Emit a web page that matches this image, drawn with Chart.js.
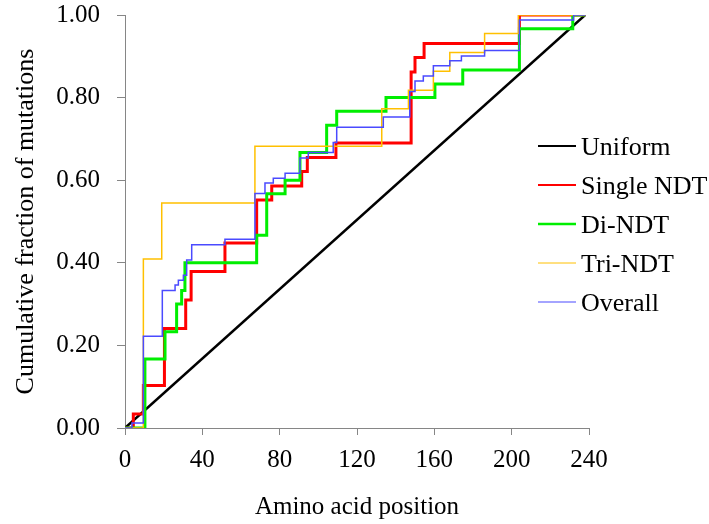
<!DOCTYPE html>
<html>
<head>
<meta charset="utf-8">
<script src="https://cdn.jsdelivr.net/npm/chart.js@4"></script>
<style>
  body { margin: 0; background: #fff; }
  #wrap { width: 709px; height: 524px; }
</style>
</head>
<body>
<div id="wrap"><canvas id="chart" width="709" height="524"></canvas></div>
<script>
// Series data: amino acid position where the step happens, and the new cumulative fraction
const uniformPos = [0, 238];
const uniformFrac = [0, 1];

const singlePos = [0, 4.3, 9.5, 20.4, 31.4, 34.2, 51.7, 68.1, 75.9, 91.4, 94.3, 109.1, 148, 150, 154.7, 204, 238];
const singleFrac = [0, 0.034, 0.103, 0.241, 0.31, 0.379, 0.448, 0.552, 0.586, 0.621, 0.655, 0.69, 0.862, 0.897, 0.931, 1, 1];

const diPos = [0, 10.3, 20.7, 26.7, 29.3, 31, 68.1, 73.3, 82.8, 90.5, 104.3, 109.5, 135, 160.3, 174.7, 204, 231.6, 238];
const diFrac = [0, 0.167, 0.233, 0.3, 0.333, 0.4, 0.467, 0.567, 0.6, 0.667, 0.733, 0.767, 0.8, 0.833, 0.867, 0.967, 1, 1];

const triPos = [0, 9.5, 19, 67.2, 132.8, 146.6, 159.5, 168, 186, 203.5, 238];
const triFrac = [0, 0.409, 0.545, 0.682, 0.773, 0.818, 0.864, 0.909, 0.955, 1, 1];

const overallPos = [0, 3.6, 9.5, 19.3, 25.9, 27.6, 30.2, 31.9, 34.5, 51.7, 67.2, 72.4, 76.7, 82.8, 90.5, 94.8, 107.7, 109.5, 133.6, 147.3, 150, 154.3, 159.5, 168, 174, 186, 204, 232, 238];
const overallFrac = [0, 0.012, 0.222, 0.333, 0.346, 0.358, 0.37, 0.407, 0.444, 0.457, 0.568, 0.593, 0.605, 0.617, 0.654, 0.667, 0.691, 0.728, 0.753, 0.815, 0.84, 0.852, 0.877, 0.889, 0.901, 0.914, 0.988, 1, 1];

const xTicks = [0, 40, 80, 120, 160, 200, 240];
const yTicks = [0, 0.2, 0.4, 0.6, 0.8, 1.0];

const seriesNames = ['Uniform', 'Single NDT', 'Di-NDT', 'Tri-NDT', 'Overall'];

const serif = '"Liberation Serif", "Times New Roman", serif';
const axisGray = '#868686';

function pts(xs, ys) {
  return xs.map((x, i) => ({ x: x, y: ys[i] }));
}

// legend drawn by hand, to sit beside the plot like the original
const sideLegend = {
  id: 'sideLegend',
  afterDraw(chart) {
    const ctx = chart.ctx;
    ctx.save();
    ctx.font = '26px ' + serif;
    ctx.textBaseline = 'middle';
    ctx.fillStyle = '#000';
    chart.data.datasets.forEach((ds, i) => {
      const y = 146 + i * 39;
      ctx.strokeStyle = ds.borderColor;
      ctx.lineWidth = ds.legendWidth;
      ctx.beginPath();
      ctx.moveTo(538, y);
      ctx.lineTo(576, y);
      ctx.stroke();
      ctx.fillText(ds.label, 581, y + 2);
    });
    ctx.restore();
  }
};

const ctx = document.getElementById('chart').getContext('2d');
new Chart(ctx, {
  type: 'line',
  data: {
    datasets: [
      { label: seriesNames[0], data: pts(uniformPos, uniformFrac), borderColor: '#000000', borderWidth: 2.5, legendWidth: 2, order: 5 },
      { label: seriesNames[1], data: pts(singlePos, singleFrac), borderColor: '#ff0000', borderWidth: 3, legendWidth: 2, stepped: true, order: 4 },
      { label: seriesNames[2], data: pts(diPos, diFrac), borderColor: '#00ee00', borderWidth: 3, legendWidth: 2.5, stepped: true, order: 3 },
      { label: seriesNames[3], data: pts(triPos, triFrac), borderColor: '#ffc000', borderWidth: 1.5, legendWidth: 1, stepped: true, order: 2 },
      { label: seriesNames[4], data: pts(overallPos, overallFrac), borderColor: '#4a4aff', borderWidth: 1.5, legendWidth: 1.2, stepped: true, order: 1 }
    ]
  },
  options: {
    responsive: false,
    animation: false,
    layout: { padding: { top: 15, right: 120, bottom: 0, left: 0 } },
    elements: { point: { radius: 0 }, line: { tension: 0, fill: false } },
    plugins: { legend: { display: false }, tooltip: { enabled: false } },
    scales: {
      x: {
        type: 'linear',
        min: 0,
        max: 240,
        afterBuildTicks: s => { s.ticks = xTicks.map(v => ({ value: v })); },
        afterFit: s => { s.height = 96; s.paddingLeft = 0; s.paddingRight = 0; },
        grid: { drawOnChartArea: false, tickLength: 7, color: axisGray },
        border: { color: axisGray, width: 1 },
        ticks: { color: '#000', padding: 10, maxRotation: 0, font: { family: serif, size: 25 } },
        title: { display: true, text: 'Amino acid position', color: '#000', padding: { top: 4, bottom: 2 }, font: { family: serif, size: 25 } }
      },
      y: {
        min: 0,
        max: 1,
        afterBuildTicks: s => { s.ticks = yTicks.map(v => ({ value: v })); },
        afterFit: s => { s.width = 125; s.paddingTop = 0; s.paddingBottom = 0; },
        grid: { drawOnChartArea: false, tickLength: 8, color: axisGray },
        border: { color: axisGray, width: 1 },
        ticks: { color: '#000', padding: 17, callback: v => v.toFixed(2), font: { family: serif, size: 25 } },
        title: { display: true, text: 'Cumulative fraction of mutations', color: '#000', padding: { top: 11, bottom: 4 }, font: { family: serif, size: 26 } }
      }
    }
  },
  plugins: [sideLegend]
});
</script>
</body>
</html>
